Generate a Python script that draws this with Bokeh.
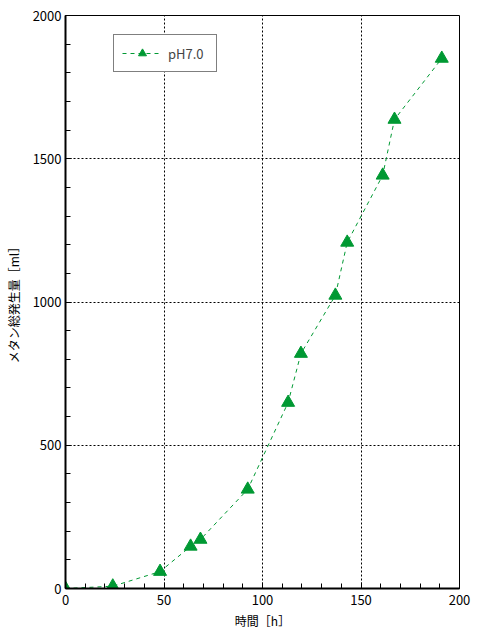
from bokeh.plotting import figure
from bokeh.models import Legend, LegendItem, FixedTicker
from bokeh.embed import file_html
from bokeh.resources import INLINE

hours = [0, 24, 48, 63.5, 68.5, 92.5, 113, 119.5, 137, 143, 161, 167, 191]
methane = [0, 8, 59, 147, 171, 346, 649, 820, 1023, 1208, 1442, 1637, 1850]
x_ticks = [0, 50, 100, 150, 200]
y_ticks = [0, 500, 1000, 1500, 2000]
series_name = "pH7.0"
x_label = "時間［h］"
y_label = "メタン総発生量［ml］"

GREEN = "#009933"
FONT = "Noto Sans CJK JP"

p = figure(width=486, height=640, output_backend="svg", toolbar_location=None,
           x_range=(0, 200), y_range=(0, 2000),
           frame_width=394, frame_height=573,
           min_border_left=65, min_border_right=27, min_border_top=15, min_border_bottom=52)
p.background_fill_color = "white"
p.border_fill_color = "white"
p.outline_line_color = "black"
p.outline_line_width = 1

r_line = p.line(hours, methane, line_color=GREEN, line_width=1, line_dash="4 4")
r_mark = p.scatter(hours, methane, marker="triangle", size=13, fill_color=GREEN, line_color=GREEN)

for ax, ticks in ((p.xaxis[0], x_ticks), (p.yaxis[0], y_ticks)):
    step = ticks[1] // 5
    ax.ticker = FixedTicker(ticks=ticks, minor_ticks=list(range(0, ticks[-1] + 1, step)))
    ax.axis_line_width = 2
    ax.axis_line_color = "black"
    ax.major_tick_in = 6
    ax.major_tick_out = 0
    ax.minor_tick_in = 5
    ax.minor_tick_out = 0
    ax.minor_tick_line_color = "black"
    ax.major_label_text_font = FONT
    ax.major_label_text_font_size = "13px"
    ax.major_label_text_color = "black"
    ax.axis_label_text_font = FONT
    ax.axis_label_text_font_size = "12px"
    ax.axis_label_text_font_style = "normal"
    ax.axis_label_text_color = "black"

p.xaxis.axis_label = x_label
p.yaxis.axis_label = y_label
p.xaxis.major_label_standoff = 6
p.yaxis.major_label_standoff = 4
p.xaxis.axis_label_standoff = 4
p.yaxis.axis_label_standoff = 8

for g in (p.xgrid[0], p.ygrid[0]):
    g.grid_line_color = "black"
    g.grid_line_dash = "2 2"
    g.grid_line_width = 1
p.xgrid.ticker = FixedTicker(ticks=x_ticks[1:-1])
p.ygrid.ticker = FixedTicker(ticks=y_ticks[1:-1])

legend = Legend(items=[LegendItem(label=series_name, renderers=[r_line, r_mark])],
                location=(48, 516), border_line_color="black", border_line_width=1,
                background_fill_color="white", background_fill_alpha=1,
                label_text_font=FONT, label_text_font_size="13px",
                glyph_width=40, glyph_height=20, padding=8, spacing=0,
                label_standoff=6, margin=0)
legend.label_width = 40
p.add_layout(legend, "center")

open("out.html", "w").write(file_html(p, INLINE))
